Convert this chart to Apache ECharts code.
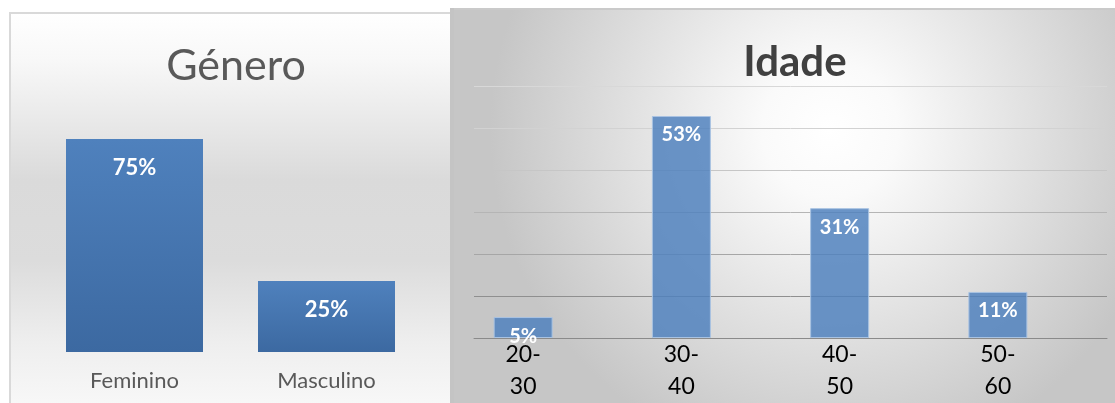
<!DOCTYPE html>
<html><head><meta charset="utf-8">
<script src="https://cdn.jsdelivr.net/npm/echarts@6/dist/echarts.min.js"></script>
<style>html,body{margin:0;padding:0;background:#fff}#c{width:1115px;height:403px}</style>
</head><body><div id="c"></div>
<script>
const genderTitle = 'Género';
const genderCategories = ['Feminino', 'Masculino'];
const genderValues = [75, 25];
const ageTitle = 'Idade';
const ageCategories = ['20-30', '30-40', '40-50', '50-60'];
const ageValues = [5, 53, 31, 11];

const FONT = 'Lato, "Open Sans", sans-serif';
const chart = echarts.init(document.getElementById('c'), null, {renderer: 'canvas'});
chart.setOption({
  animation: false,
  backgroundColor: '#ffffff',
  textStyle: {fontFamily: FONT},
  graphic: [
    {type: 'rect', z: -10, silent: true, shape: {x: 10, y: 13, width: 441, height: 400},
     style: {fill: new echarts.graphic.LinearGradient(0, 0, 0, 1, [
       {offset: 0, color: '#ffffff'}, {offset: 0.12, color: '#f8f8f8'},
       {offset: 0.42, color: '#dadada'}, {offset: 0.62, color: '#dcdcdc'},
       {offset: 0.82, color: '#eeeeee'}, {offset: 1, color: '#f9f9f9'}]),
       stroke: '#d9d9d9', lineWidth: 2}},
    {type: 'rect', z: -10, silent: true, shape: {x: 452, y: 10, width: 663, height: 400},
     style: {fill: new echarts.graphic.RadialGradient(0.57, 0.3, 0.85, [
       {offset: 0, color: '#ffffff'}, {offset: 0.2, color: '#fafafa'},
       {offset: 1, color: '#c6c6c6'}])}},
    {type: 'rect', z: -9, silent: true, shape: {x: 450, y: 8, width: 665, height: 2},
     style: {fill: '#cacaca'}},
    {type: 'rect', z: -9, silent: true, shape: {x: 450, y: 8, width: 4, height: 400},
     style: {fill: '#c4c4c4'}}
  ],
  title: [
    {text: genderTitle, left: 231, top: 40, textAlign: 'center',
     textStyle: {fontFamily: FONT, fontSize: 43, fontWeight: 'normal', color: '#595959'}},
    {text: ageTitle, left: 790, top: 36, textAlign: 'center',
     textStyle: {fontFamily: FONT, fontSize: 42, fontWeight: 'bold', color: '#404040'}}
  ],
  grid: [
    {left: 38.5, width: 384, top: 68, height: 284, outerBoundsMode: 'none', containLabel: false},
    {left: 474, width: 633, top: 86.7, height: 251.3, outerBoundsMode: 'none', containLabel: false},
    {left: 444, width: 633, top: 86.7, height: 251.3, outerBoundsMode: 'none', containLabel: false}
  ],
  xAxis: [
    {gridIndex: 0, type: 'category', data: genderCategories,
     axisLine: {show: false}, axisTick: {show: false},
     axisLabel: {fontFamily: FONT, fontSize: 22, color: '#595959', margin: 18}},
    {gridIndex: 1, type: 'category', data: ageCategories,
     axisLine: {lineStyle: {color: '#8a8a8a', width: 1}}, axisTick: {show: false},
     axisLabel: {show: false}},
    {gridIndex: 2, type: 'category', data: ageCategories,
     axisLine: {show: false}, axisTick: {show: false},
     axisLabel: {fontFamily: FONT, fontSize: 23, color: '#000000', margin: 1, lineHeight: 32,
       formatter: v => v.replace('-', '-\n')}}
  ],
  yAxis: [
    {gridIndex: 0, type: 'value', min: 0, max: 100, show: false},
    {gridIndex: 1, type: 'value', min: 0, max: 60, interval: 10,
     axisLine: {show: false}, axisTick: {show: false}, axisLabel: {show: false},
     splitLine: {lineStyle: {width: 1,
       color: ['#8a8a8a', '#8f8f8f', '#a6a6a6', '#b5b5b5', '#c6c6c6', '#d2d2d2', '#d8d8d8']}}},
    {gridIndex: 2, type: 'value', min: 0, max: 60, interval: 10, show: false,
     splitLine: {show: false}}
  ],
  series: [
    {type: 'bar', xAxisIndex: 0, yAxisIndex: 0, data: genderValues, barWidth: 137,
     itemStyle: {color: new echarts.graphic.LinearGradient(0, 0, 0, 1, [
       {offset: 0, color: '#4f81bd'}, {offset: 1, color: '#3c69a1'}])},
     label: {show: true, position: 'insideTop', distance: 18, formatter: '{c}%',
       fontFamily: FONT, fontSize: 22, fontWeight: 'bold', color: '#ffffff'}},
    {type: 'bar', xAxisIndex: 2, yAxisIndex: 2, data: ageValues, barWidth: 59,
     itemStyle: {color: 'rgba(79,129,189,0.84)', borderColor: '#a9c3e2', borderWidth: 1},
     label: {show: true, position: 'insideTop', distance: 9, formatter: '{c}%',
       fontFamily: FONT, fontSize: 20, fontWeight: 'bold', color: '#ffffff'}}
  ]
});
</script></body></html>
